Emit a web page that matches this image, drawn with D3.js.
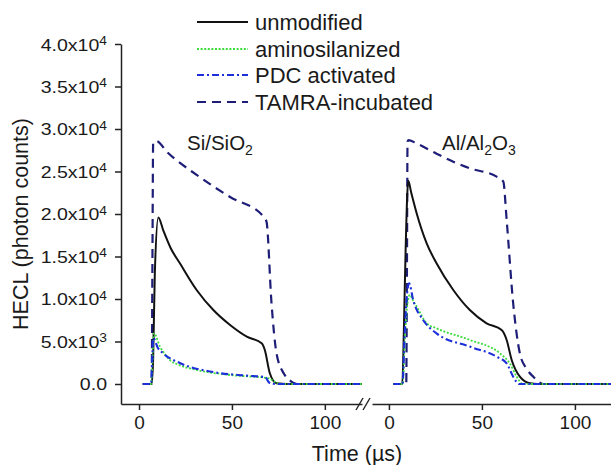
<!DOCTYPE html>
<html>
<head>
<meta charset="utf-8">
<script src="https://cdn.jsdelivr.net/npm/d3@7"></script>
<style>
  body { margin: 0; background: #fff; }
  text { font-family: "Liberation Sans", Arial, sans-serif; fill: #1a1a1a; }
</style>
</head>
<body>
<div id="container"></div>
<script>

// series names / legend
const seriesNames = ["unmodified", "aminosilanized", "PDC activated", "TAMRA-incubated"];
const xTicks = [0, 50, 100];
const yTicks = [0, 5000, 10000, 15000, 20000, 25000, 30000, 35000, 40000];

// [time (us), photon counts]
// Si/SiO2 panel
const siUnmodified = [[2,0],[6.8,0],[7.6,3000],[8.5,13000],[10.4,19600],[13,18100],[17,16000],[22,14200],[31,11060],[40,8700],[49,6940],[58,5570],[66,4790],[67.7,4000],[70.4,1260],[74,80],[80,0],[120,0]];
const siAmino      = [[2,0],[6.5,0],[7.2,2500],[8,5960],[11.3,4400],[16.7,2800],[22,2200],[31,1650],[49,1060],[70,670],[72,400],[75,60],[80,0],[120,0]];
const siPDC        = [[2,0],[6.5,0],[7,2500],[7.7,5400],[10,4300],[13,3600],[22,2470],[40,1400],[58,980],[68,800],[69.5,300],[71,40],[75,0],[120,0]];
const siTAMRA      = [[2,0],[6.8,0],[7.2,14000],[7.6,28300],[9.1,28600],[15.5,27200],[31,24600],[49,22000],[67,19700],[68.6,19100],[71.3,9500],[74,3600],[78,1200],[81,450],[85,0],[120,0]];
// Al/Al2O3 panel
const alUnmodified = [[2.3,0],[7.2,0],[8,6000],[9,16000],[10.4,23900],[12,22500],[14.9,20100],[20.3,16550],[25.6,14200],[34.6,11060],[43.5,8700],[52.5,7140],[60.6,6350],[63.3,5180],[66,2820],[70.4,860],[75.8,80],[80,0],[120,0]];
const alAmino      = [[2.3,0],[7.4,0],[8.5,5000],[10,9500],[11.3,10500],[13,9800],[14.9,9100],[20.3,7140],[25.6,6550],[43.5,5180],[59.7,3600],[65,2430],[68.7,860],[72,0],[120,0]];
const alPDC        = [[2.3,0],[7.3,0],[8.3,5000],[9.5,10000],[10.9,11850],[13,9900],[18.4,7530],[25.6,5960],[43.5,4400],[57.9,3220],[63.3,2430],[66.8,860],[70,0],[120,0]];
const alTAMRA      = [[2.3,0],[9.3,0],[9.7,14000],[10,28500],[10.4,28700],[14.9,28300],[25.6,27100],[34.6,26150],[43.5,25370],[57.9,24400],[61.5,23800],[63.3,19300],[66.8,9500],[70.4,3600],[74,1800],[77.6,860],[83,0],[120,0]];

const width = 611, height = 465;

const styles = [
  { color: "#111111", dash: null,        w: 2 },
  { color: "#3ddc3d", dash: "2,1.6",     w: 1.8 },
  { color: "#1c2fd8", dash: "7,3,2,3",   w: 2.1 },
  { color: "#1e1e78", dash: "9,6",       w: 2.2 }
];

const svg = d3.create("svg").attr("width", width).attr("height", height);

// scales
const y = d3.scaleLinear().domain([-2353, 40000]).range([404, 44]);
const xL = d3.scaleLinear().domain([-9.7, 120]).range([121, 362]);
const xR = d3.scaleLinear().domain([-9.1, 119.4]).range([372, 611]);

// clip each panel
const defs = svg.append("defs");
[["clipL", xL], ["clipR", xR]].forEach(([id, sc]) => {
  defs.append("clipPath").attr("id", id).append("rect")
    .attr("x", sc.range()[0]).attr("y", 0)
    .attr("width", sc.range()[1] - sc.range()[0]).attr("height", 404);
});

// y axis
const yAxis = svg.append("g").attr("transform", "translate(121,0)")
  .call(d3.axisLeft(y).tickValues(yTicks).tickSize(6).tickSizeOuter(0).tickFormat(""));
yAxis.select(".domain").attr("stroke", "#222").attr("stroke-width", 1.5);
yAxis.selectAll(".tick line").attr("stroke", "#222").attr("stroke-width", 1.5);
yAxis.selectAll(".tick").append("text")
  .attr("transform", "translate(-14,6) scale(1.15,1)")
  .attr("text-anchor", "end")
  .attr("font-size", 17)
  .each(function(d) {
    const t = d3.select(this);
    if (d === 0) { t.text("0.0"); return; }
    const e = Math.floor(Math.log10(d));
    t.append("tspan").text((d / Math.pow(10, e)).toFixed(1) + "x10");
    t.append("tspan").attr("font-size", 12).attr("dy", -6).text(e);
  });

// x axes
[xL, xR].forEach(sc => {
  const g = svg.append("g").attr("transform", "translate(0,404)")
    .call(d3.axisBottom(sc).tickValues(xTicks).tickSize(6).tickSizeOuter(0).tickPadding(6));
  g.select(".domain").attr("stroke", "#222").attr("stroke-width", 1.5);
  g.selectAll(".tick line").attr("stroke", "#222").attr("stroke-width", 1.5);
  g.selectAll(".tick text").attr("font-size", 19).attr("fill", "#1a1a1a")
    .attr("font-family", "Liberation Sans, Arial, sans-serif");
});

// axis break marks
const bx = xL.range()[1];
[-3, 4].forEach(o => {
  svg.append("line")
    .attr("x1", bx + o - 3).attr("y1", 410)
    .attr("x2", bx + o + 4).attr("y2", 398)
    .attr("stroke", "#222").attr("stroke-width", 1.4);
});

// lines
const panels = [
  { x: xL, clip: "clipL", data: [siUnmodified, siAmino, siPDC, siTAMRA] },
  { x: xR, clip: "clipR", data: [alUnmodified, alAmino, alPDC, alTAMRA] }
];
panels.forEach(p => {
  const line = d3.line().x(d => p.x(d[0])).y(d => y(d[1])).curve(d3.curveMonotoneX);
  const g = svg.append("g").attr("clip-path", `url(#${p.clip})`);
  [3, 0, 1, 2].forEach(i => {
    g.append("path").datum(p.data[i])
      .attr("d", line)
      .attr("fill", "none")
      .attr("stroke", styles[i].color)
      .attr("stroke-width", styles[i].w)
      .attr("stroke-dasharray", styles[i].dash)
      .attr("stroke-linejoin", "round");
  });
});

// panel labels with subscripts
function subLabel(x, yy, parts) {
  const t = svg.append("text").attr("x", x).attr("y", yy).attr("font-size", 20.5);
  let down = false;
  parts.forEach(([s, sub]) => {
    const dy = sub ? (down ? 0 : 5) : (down ? -5 : 0);
    down = !!sub;
    const ts = t.append("tspan").attr("dy", dy).text(s);
    if (sub) ts.attr("font-size", 14);
  });
}
subLabel(187, 150, [["Si/SiO"], ["2", true]]);
subLabel(442, 150, [["Al/Al"], ["2", true], ["O"], ["3", true]]);

// legend
const legendY = [22, 49, 75, 102];
seriesNames.forEach((name, i) => {
  svg.append("line")
    .attr("x1", 197).attr("x2", 248)
    .attr("y1", legendY[i]).attr("y2", legendY[i])
    .attr("stroke", styles[i].color)
    .attr("stroke-width", styles[i].w)
    .attr("stroke-dasharray", styles[i].dash);
  svg.append("text").attr("x", 255).attr("y", legendY[i] + 7.5)
    .attr("font-size", 22).text(name);
});

// axis titles
svg.append("text").attr("x", 357).attr("y", 461).attr("text-anchor", "middle")
  .attr("font-size", 21.5).text("Time (\u00b5s)");
svg.append("text").attr("transform", "translate(28,224) rotate(-90)")
  .attr("text-anchor", "middle").attr("font-size", 21.5).text("HECL (photon counts)");

container.append(svg.node());
</script>
</body>
</html>
